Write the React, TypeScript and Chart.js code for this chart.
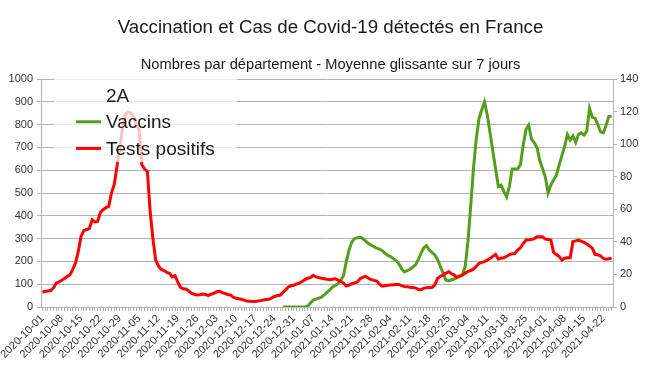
import React, { useEffect, useRef } from 'react';
import { Chart, registerables } from 'chart.js';

Chart.register(...registerables);

const FONT = '"Liberation Sans", Arial, sans-serif';
const TITLE = 'Vaccination et Cas de Covid-19 détectés en France';
const SUBTITLE = 'Nombres par département - Moyenne glissante sur 7 jours';
const LEGEND_TITLE = '2A';
const SERIES_VACCINS = 'Vaccins';
const SERIES_TESTS = 'Tests positifs';

const START_DATE = '2020-10-01';
const DAY_COUNT = 207;
const VACCINS_START_INDEX = 87; // 2020-12-27
const LABEL_EVERY = 7;

const leftTicks = { min: 0, max: 1000, step: 100 };
const rightTicks = { min: 0, max: 140, step: 20 };

// Tests positifs (left axis), one value per day from 2020-10-01
const testsPositifs = [
  66, 68, 70, 72, 83, 105, 110, 117, 125, 134,
  142, 165, 193, 244, 310, 335, 340, 344, 383, 373,
  375, 415, 427, 436, 441, 500, 537, 617, 700, 785,
  845, 855, 852, 836, 800, 778, 624, 605, 595, 420,
  300, 205, 180, 165, 160, 152, 148, 132, 137, 110,
  85, 80, 78, 70, 60, 56, 53, 54, 57, 55,
  50, 56, 60, 66, 70, 63, 60, 55, 53, 44,
  38, 36, 34, 30, 26, 25, 24, 24, 26, 28,
  31, 33, 34, 40, 46, 50, 51, 63, 75, 88,
  93, 95, 101, 105, 112, 120, 126, 129, 139, 132,
  129, 126, 124, 122, 120, 122, 124, 118, 112, 105,
  92, 96, 102, 106, 110, 124, 131, 134, 126, 120,
  117, 114, 100, 91, 93, 95, 97, 98, 99, 99,
  94, 90, 89, 87, 86, 84, 78, 75, 82, 85,
  86, 86, 96, 125, 135, 140, 148, 155, 147, 140,
  130, 135, 140, 148, 156, 160, 166, 178, 192, 196,
  199, 206, 213, 222, 231, 211, 214, 216, 222, 230,
  233, 235, 250, 260, 278, 294, 295, 296, 300, 308,
  308, 308, 298, 296, 294, 240, 230, 222, 206, 214,
  216, 216, 287, 290, 294, 289, 284, 276, 268, 258,
  231, 229, 225, 213, 210, 212, 214,
];

// Vaccins (right axis), one value per day from 2020-12-27
const vaccins = [
  0, 0, 0, 0, 0, 0, 0, 0, 0, 0.5,
  2.5, 4.2, 4.8, 5.5, 6.1, 7.5, 9, 10.5, 12.3, 13.3,
  14.3, 16.5, 19.4, 28, 35, 40, 42, 42.6, 42.8, 42,
  40.5, 39, 38, 37, 36.2, 35.5, 34.6, 33, 31.7, 31,
  29.7, 28.5, 26.5, 23.5, 21.5, 22.3, 23.2, 24.5, 25.8, 28.9,
  33, 36.4, 37.7, 35, 33.5, 32, 29.2, 25, 21, 16.5,
  16, 16.6, 17.2, 18, 19, 19.8, 24.8, 40, 62, 85,
  103, 115.8, 121, 126, 118, 107, 96, 85, 74, 74.9,
  71, 67.7, 74, 84.7, 84.7, 84.7, 87.5, 99.4, 109, 111.7,
  103, 101, 98, 90, 85, 80, 70, 74.9, 78, 81,
  87.2, 93, 98.6, 106, 102.5, 105, 101.1, 106, 107, 105.6,
  108, 122, 116.5, 116, 112, 107.6, 107, 111.7, 117, 117.3,
];

const COLOR_TESTS = '#ff0000';
const COLOR_VACCINS = '#579d1c';
const GRID = '#b3b3b3';
const TEXT = '#1a1a1a';
const TICK_TEXT = '#333333';

function buildDates(): string[] {
  const out: string[] = [];
  const [y, m, d] = START_DATE.split('-').map(Number);
  for (let i = 0; i < DAY_COUNT; i++) {
    const dt = new Date(Date.UTC(y, m - 1, d + i));
    out.push(dt.toISOString().slice(0, 10));
  }
  return out;
}

const overlayLegend = {
  id: 'overlayLegend',
  afterDatasetsDraw(chart: any) {
    const { ctx, chartArea: a } = chart;
    ctx.save();
    ctx.fillStyle = 'rgba(255,255,255,0.75)';
    ctx.fillRect(a.left + 13, a.top - 3, 183, 86);
    ctx.font = `19px ${FONT}`;
    ctx.fillStyle = TEXT;
    ctx.textBaseline = 'alphabetic';
    ctx.textAlign = 'left';
    const tx = a.left + 65;
    ctx.fillText(LEGEND_TITLE, tx, a.top + 22.7);
    const items = chart.data.datasets.slice().reverse();
    items.forEach((ds: any, k: number) => {
      const ly = a.top + 42.7 + k * 26.6;
      ctx.strokeStyle = ds.borderColor;
      ctx.lineWidth = 3;
      ctx.beginPath();
      ctx.moveTo(a.left + 35, ly);
      ctx.lineTo(a.left + 60, ly);
      ctx.stroke();
      ctx.fillStyle = TEXT;
      ctx.fillText(ds.label, tx, ly + 6.6);
    });
    ctx.restore();
  },
};

export default function App() {
  const ref = useRef<HTMLCanvasElement | null>(null);
  useEffect(() => {
    if (!ref.current) return;
    const dates = buildDates();
    const vaccData: (number | null)[] = dates.map((_, i) =>
      i < VACCINS_START_INDEX ? null : vaccins[i - VACCINS_START_INDEX] ?? null
    );
    const chart = new Chart(ref.current, {
      type: 'line',
      data: {
        labels: dates,
        datasets: [
          {
            label: SERIES_TESTS,
            data: testsPositifs,
            borderColor: COLOR_TESTS,
            backgroundColor: COLOR_TESTS,
            borderWidth: 3,
            pointRadius: 0,
            tension: 0,
            yAxisID: 'y',
          },
          {
            label: SERIES_VACCINS,
            data: vaccData,
            borderColor: COLOR_VACCINS,
            backgroundColor: COLOR_VACCINS,
            borderWidth: 3,
            pointRadius: 0,
            tension: 0,
            yAxisID: 'y2',
          },
        ],
      },
      options: {
        responsive: false,
        animation: false,
        layout: { padding: 0 },
        plugins: {
          legend: { display: false },
          tooltip: { enabled: false },
          title: {
            display: true,
            text: TITLE,
            color: TEXT,
            font: { family: FONT, size: 18.7, weight: 'normal' },
            padding: { top: 16.6, bottom: 8 },
          },
          subtitle: {
            display: true,
            text: SUBTITLE,
            color: TEXT,
            font: { family: FONT, size: 14.7, weight: 'normal' },
            padding: { top: 9, bottom: 5.4 },
          },
        },
        scales: {
          x: {
            type: 'category',
            offset: true,
            grid: {
              display: true,
              drawOnChartArea: false,
              drawTicks: true,
              tickLength: 4,
              color: GRID,
            },
            border: { color: GRID },
            ticks: {
              autoSkip: false,
              maxRotation: 45,
              minRotation: 45,
              padding: 1,
              color: TICK_TEXT,
              font: { family: FONT, size: 11 },
              callback: (_v: any, i: number) => (i % LABEL_EVERY === 0 ? dates[i] : ''),
            },
            afterFit: (s: any) => {
              s.height = 66;
            },
          },
          y: {
            position: 'left',
            min: leftTicks.min,
            max: leftTicks.max,
            ticks: {
              stepSize: leftTicks.step,
              padding: 4,
              color: TICK_TEXT,
              font: { family: FONT, size: 11 },
              callback: (v: any) => String(v),
            },
            grid: { color: GRID, tickLength: 4 },
            border: { color: GRID },
            afterFit: (s: any) => {
              s.width = 41;
            },
          },
          y2: {
            position: 'right',
            min: rightTicks.min,
            max: rightTicks.max,
            ticks: {
              stepSize: rightTicks.step,
              padding: 3,
              color: TICK_TEXT,
              font: { family: FONT, size: 11 },
              callback: (v: any) => String(v),
            },
            grid: { drawOnChartArea: false, color: GRID, tickLength: 4 },
            border: { color: GRID },
            afterFit: (s: any) => {
              s.width = 48;
            },
          },
        },
      },
      plugins: [overlayLegend],
    } as any);
    return () => chart.destroy();
  }, []);
  return (
    <div style={{ position: 'absolute', left: 0, top: 0, width: 661, height: 373, background: '#fff' }}>
      <canvas ref={ref} width={661} height={373} style={{ display: 'block' }} />
    </div>
  );
}
